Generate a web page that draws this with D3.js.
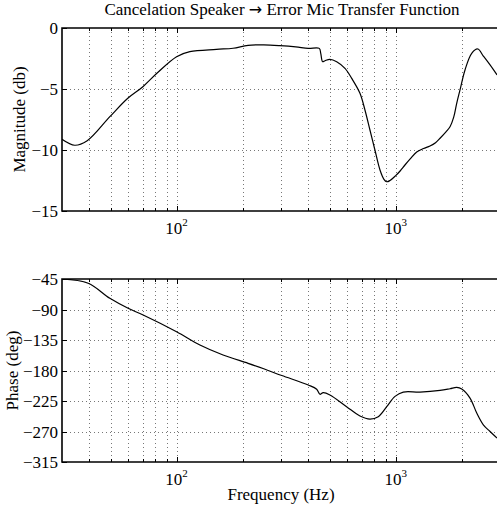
<!DOCTYPE html>
<html>
<head>
<meta charset="utf-8">
<script src="https://cdn.jsdelivr.net/npm/d3@7"></script>
<style>
  body { margin: 0; background: #fff; }
  text { font-family: "Liberation Serif", "Times New Roman", serif; fill: #000; }
</style>
</head>
<body>
<svg width="497" height="510"></svg>
<script>
// magnitude response (Hz, dB)
var magFreq = [30, 34.3, 39.1, 49.6, 59.9, 70.2, 81.3, 100, 115, 152, 181, 212, 250, 296, 350, 399, 448, 455, 464, 476, 501, 538, 587, 630, 687, 724, 763, 804, 848, 884, 910, 942, 1000, 1050, 1100, 1162, 1247, 1340, 1434, 1520, 1594, 1700, 1770, 1840, 1899, 1966, 2072, 2223, 2370, 2512, 2696, 2901];
var magDb = [-9.12, -9.61, -9.24, -7.27, -5.76, -4.81, -3.71, -2.35, -1.94, -1.75, -1.66, -1.42, -1.39, -1.45, -1.55, -1.67, -1.67, -2.08, -2.76, -2.68, -2.57, -2.76, -3.31, -4.13, -5.35, -6.72, -8.36, -10.0, -11.64, -12.4, -12.6, -12.5, -12.1, -11.7, -11.25, -10.75, -10.16, -9.88, -9.67, -9.4, -9.04, -8.5, -8.09, -7.3, -6.17, -5.08, -3.44, -2.08, -1.72, -2.3, -3.03, -3.85];

// phase response (Hz, deg)
var phFreq = [30, 39.5, 49.6, 60.1, 70.4, 100, 127.8, 163, 212, 250, 302, 399, 436, 451, 467, 501, 597, 687, 763, 833, 910, 993, 1083, 1291, 1594, 1770, 1899, 2002, 2184, 2344, 2512, 2696, 2901];
var phDeg = [-45, -51.3, -73.5, -88.2, -98.1, -122.8, -142.4, -157.1, -169.4, -177.5, -187.4, -201.4, -207.7, -215.1, -212.7, -216.1, -233.4, -247.1, -251.6, -248.1, -233.4, -218.2, -211.8, -211.8, -209.4, -206.9, -205, -207.4, -220.7, -242.8, -260.1, -270, -279.7];

var magTicks = [-15, -10, -5, 0];
var phTicks = [-315, -270, -225, -180, -135, -90, -45];
var decades = [100, 1000];
var minorFreq = [40, 50, 60, 70, 80, 90, 200, 300, 400, 500, 600, 700, 800, 900, 2000];

var svg = d3.select("svg");
var left = 62, right = 497;

var x = d3.scaleLog().domain([30, 2900]).range([left, right]);

function fmt(v) { return v < 0 ? "\u2212" + Math.abs(v) : String(v); }

function panel(top, bottom, yDomain, yTicks, freqs, vals, ylabel, labelX) {
    var y = d3.scaleLinear().domain(yDomain).range([bottom, top]);
    var g = svg.append("g");

    // grid
    g.selectAll(".gx")
        .data(decades.concat(minorFreq))
        .enter().append("line")
        .attr("x1", function (d) { return Math.round(x(d)) + 0.5; })
        .attr("x2", function (d) { return Math.round(x(d)) + 0.5; })
        .attr("y1", top).attr("y2", bottom)
        .attr("stroke", "#777")
        .attr("stroke-width", 1)
        .attr("stroke-dasharray", "1,3");
    g.selectAll(".gy")
        .data(yTicks.slice(1, -1))
        .enter().append("line")
        .attr("x1", left).attr("x2", right)
        .attr("y1", function (d) { return Math.round(y(d)) + 0.5; })
        .attr("y2", function (d) { return Math.round(y(d)) + 0.5; })
        .attr("stroke", "#777")
        .attr("stroke-width", 1)
        .attr("stroke-dasharray", "1,3");

    // inside ticks
    decades.concat(minorFreq).forEach(function (d) {
        var len = decades.indexOf(d) >= 0 ? 5 : 3;
        var px = Math.round(x(d)) + 0.5;
        g.append("line").attr("x1", px).attr("x2", px)
            .attr("y1", bottom).attr("y2", bottom - len)
            .attr("stroke", "#000");
        g.append("line").attr("x1", px).attr("x2", px)
            .attr("y1", top).attr("y2", top + len)
            .attr("stroke", "#000");
    });
    yTicks.forEach(function (d) {
        var py = Math.round(y(d)) + 0.5;
        g.append("line").attr("x1", left).attr("x2", left + 5)
            .attr("y1", py).attr("y2", py).attr("stroke", "#000");
    });

    // curve
    var clipId = "clip" + top;
    svg.append("clipPath").attr("id", clipId)
        .append("rect").attr("x", left).attr("y", top)
        .attr("width", right - left).attr("height", bottom - top);
    var line = d3.line()
        .x(function (d, i) { return x(freqs[i]); })
        .y(function (d) { return y(d); })
        .curve(d3.curveCatmullRom.alpha(0.5));
    g.append("path")
        .attr("d", line(vals))
        .attr("fill", "none")
        .attr("stroke", "#000")
        .attr("stroke-width", 1.2)
        .attr("clip-path", "url(#" + clipId + ")");

    // box (right side sits outside the picture)
    g.append("path")
        .attr("d", "M" + (right + 2) + "," + top + "H" + left + "V" + bottom + "H" + (right + 2))
        .attr("fill", "none")
        .attr("stroke", "#000")
        .attr("stroke-width", 1.6);

    // y tick labels
    g.selectAll(".yl")
        .data(yTicks)
        .enter().append("text")
        .attr("x", left - 4)
        .attr("y", function (d) { return y(d) + 6; })
        .attr("text-anchor", "end")
        .style("font-size", "17px")
        .text(fmt);

    // x tick labels
    decades.forEach(function (d) {
        var t = g.append("text")
            .attr("x", x(d))
            .attr("y", bottom + 23)
            .attr("text-anchor", "middle")
            .style("font-size", "17px");
        t.append("tspan").text("10");
        t.append("tspan").attr("dy", -8).style("font-size", "11px").text(String(Math.round(Math.log10(d))));
    });

    // y label
    g.append("text")
        .attr("transform", "translate(" + labelX + "," + ((top + bottom) / 2) + ") rotate(-90)")
        .attr("text-anchor", "middle")
        .style("font-size", "17px")
        .text(ylabel);
}

panel(28, 211, [-15, 0], magTicks, magFreq, magDb, "Magnitude (db)", 25);
panel(279, 462, [-315, -45], phTicks, phFreq, phDeg, "Phase (deg)", 18);

var title = svg.append("text")
    .attr("x", 282)
    .attr("y", 15)
    .attr("text-anchor", "middle")
    .style("font-size", "17px");
title.append("tspan").text("Cancelation Speaker ");
title.append("tspan").style("font-family", "DejaVu Sans").style("font-size", "16px").text("\u2192");
title.append("tspan").text(" Error Mic Transfer Function");

svg.append("text")
    .attr("x", 281)
    .attr("y", 500)
    .attr("text-anchor", "middle")
    .style("font-size", "17px")
    .text("Frequency (Hz)");
</script>
</body>
</html>
